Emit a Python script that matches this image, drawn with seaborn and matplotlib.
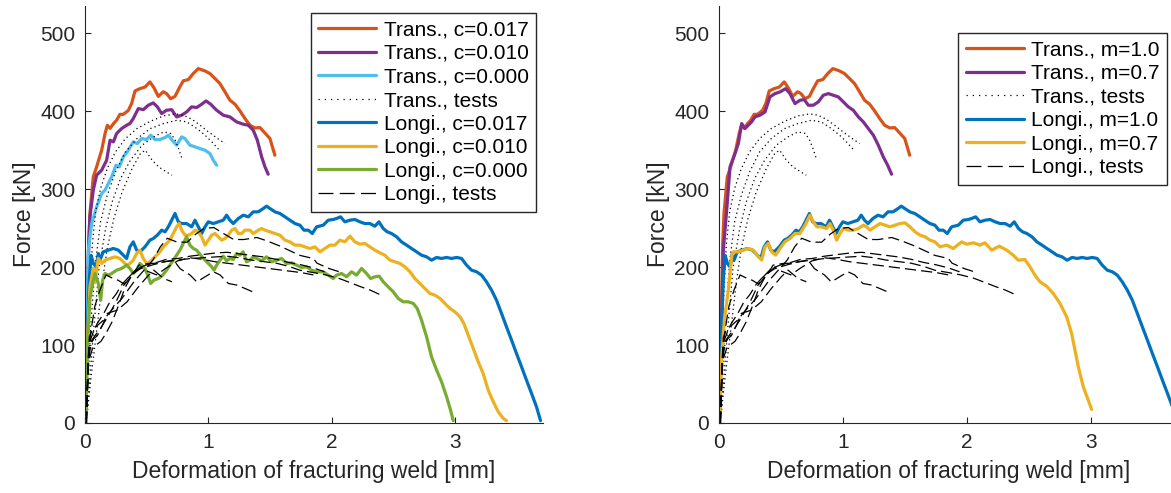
import matplotlib
matplotlib.use("Agg")
import matplotlib.pyplot as plt
import seaborn as sns
from matplotlib.lines import Line2D

sns.set_theme(style="white")
plt.rcParams["font.family"] = ["Liberation Sans", "DejaVu Sans"]

# ---------------- data (deformation [mm], force [kN]) ----------------
# shared simulations (left c=0.017 == right m=1.0)
trans_017_x = [0.005, 0.02, 0.03, 0.040, 0.067, 0.094, 0.135, 0.162, 0.181, 0.203, 0.230, 0.256, 0.283, 0.310,
               0.351, 0.378, 0.405, 0.445, 0.486, 0.526, 0.559, 0.594, 0.634, 0.661, 0.694, 0.729, 0.764,
               0.796, 0.837, 0.877, 0.918, 0.972, 1.012, 1.053, 1.093, 1.134, 1.174, 1.215, 1.255, 1.296,
               1.336, 1.377, 1.417, 1.457, 1.498, 1.538]
trans_017_y = [0, 150, 230, 268.8, 315.8, 328.6, 350, 371, 382, 378, 384, 388.5, 396, 396,
               401, 410, 426, 429, 431, 437.6, 430, 419, 425, 422.6, 416, 419, 430,
               439, 440.6, 448.3, 454.7, 451.7, 448.3, 441.9, 435.5, 424.8, 414.1, 409, 400.4, 390.6,
               382, 378.6, 379, 372.2, 365, 343.6]

trans_010_x = [0.005, 0.02, 0.03, 0.040, 0.067, 0.094, 0.135, 0.175, 0.203, 0.230, 0.256, 0.297, 0.337, 0.364,
               0.391, 0.432, 0.472, 0.513, 0.553, 0.586, 0.621, 0.661, 0.702, 0.742, 0.783, 0.823, 0.864,
               0.904, 0.945, 0.980, 1.018, 1.066, 1.120, 1.174, 1.228, 1.282, 1.323, 1.363, 1.396, 1.431,
               1.458, 1.484]
trans_010_y = [0, 150, 230, 264.5, 298.7, 318, 324.4, 337, 362.8, 360.7, 371.4, 377.8, 382, 384.2,
               390.6, 403.4, 402, 407.7, 410.7, 405.6, 397, 401.3, 402, 392.7, 394.9, 399.1, 405.6,
               404.7, 409, 413.2, 409, 401.3, 394.9, 392.7, 386.3, 383.3, 382, 375.6, 362.8, 341.4,
               328.6, 319.2]

trans_000_x = [0.005, 0.015, 0.027, 0.054, 0.094, 0.135, 0.162, 0.189, 0.216, 0.251, 0.278, 0.310, 0.351,
               0.391, 0.424, 0.459, 0.499, 0.532, 0.567, 0.607, 0.648, 0.675, 0.702, 0.742, 0.783, 0.810,
               0.850, 0.891, 0.931, 0.972, 1.012, 1.039, 1.066]
trans_000_y = [0, 120, 221.8, 256, 277.3, 294.4, 298.7, 307.3, 315.8, 330.8, 328.6, 341.4, 350,
               360.7, 358.5, 365, 363.7, 369.2, 363.7, 363.7, 366.2, 369.2, 363.7, 356.4, 367.1, 364.9,
               356.4, 354.3, 352.1, 350, 345.7, 337.2, 330.8]

longi_017_x = [0.005, 0.02, 0.035, 0.05, 0.067, 0.09, 0.108, 0.121, 0.148, 0.189, 0.229, 0.270, 0.310, 0.337,
               0.364, 0.391, 0.418, 0.445, 0.486, 0.526, 0.553, 0.586, 0.621, 0.648, 0.675, 0.702, 0.729,
               0.756, 0.783, 0.823, 0.864, 0.891, 0.918, 0.945, 0.972, 0.999, 1.039, 1.080, 1.120, 1.147,
               1.174, 1.201, 1.242, 1.282, 1.323, 1.363, 1.404, 1.444, 1.471, 1.498, 1.539, 1.579, 1.620,
               1.660, 1.701, 1.741, 1.774, 1.809, 1.841, 1.876, 1.930, 1.970, 2.011, 2.038, 2.070, 2.105,
               2.146, 2.186, 2.227, 2.267, 2.308, 2.348, 2.381, 2.416, 2.448, 2.483, 2.524, 2.564, 2.605,
               2.645, 2.686, 2.726, 2.767, 2.807, 2.848, 2.888, 2.929, 2.969, 3.010, 3.050, 3.091, 3.131,
               3.172, 3.212, 3.252, 3.293, 3.333, 3.374, 3.414, 3.455, 3.495, 3.536, 3.576, 3.617, 3.657,
               3.690]
longi_017_y = [0, 120, 185, 215, 205, 200, 217.5, 208.9, 219.6, 221.8, 223.9, 221.8, 215.3, 211.1,
               226, 232.4, 221.8, 219.6, 226, 234.6, 236.7, 241, 247.4, 245.3, 251.7, 260.2, 268.8,
               258.1, 255.9, 255.9, 251.7, 260.2, 251.7, 243.1, 251.7, 258.1, 255.9, 258.1, 260.2, 266.6,
               260.2, 255.9, 262.4, 266.6, 264.5, 270.9, 270.9, 275.2, 278.2, 275.2, 270.9, 268.8, 264.5,
               260.2, 255.9, 253.8, 247.4, 247.4, 243.1, 251.7, 253.8, 260.2, 261.1, 262.4, 264.5, 258.1,
               260.2, 261.1, 258.1, 255.9, 255.9, 252.5, 258.1, 249.5, 245.3, 243.1, 238.9, 232.4, 228.2,
               223.9, 219.6, 215.3, 213.2, 208.9, 212.4, 211.1, 212.4, 211.1, 212.4, 211.1, 202.5, 196.1,
               194, 189.7, 181.2, 170.5, 157.7, 140.6, 123.5, 106.4, 89.3, 72.2, 55.1, 38, 20.9,
               3]

longi_010_x = [0.005, 0.02, 0.04, 0.067, 0.08, 0.094, 0.108, 0.135, 0.162, 0.203, 0.243, 0.283, 0.310, 0.337,
               0.364, 0.391, 0.418, 0.445, 0.472, 0.499, 0.526, 0.553, 0.580, 0.607, 0.634, 0.661, 0.688,
               0.715, 0.742, 0.764, 0.783, 0.810, 0.837, 0.864, 0.891, 0.918, 0.945, 0.972, 0.999, 1.026,
               1.053, 1.080, 1.107, 1.134, 1.161, 1.188, 1.215, 1.242, 1.269, 1.296, 1.336, 1.363, 1.404,
               1.431, 1.458, 1.498, 1.539, 1.579, 1.620, 1.660, 1.701, 1.741, 1.781, 1.822, 1.862, 1.903,
               1.943, 1.984, 2.024, 2.065, 2.105, 2.146, 2.186, 2.227, 2.267, 2.308, 2.348, 2.389, 2.429,
               2.470, 2.510, 2.551, 2.591, 2.632, 2.672, 2.713, 2.753, 2.794, 2.834, 2.875, 2.915, 2.956,
               2.996, 3.037, 3.069, 3.104, 3.145, 3.185, 3.225, 3.266, 3.307, 3.347, 3.388, 3.414]
longi_010_y = [0, 110, 175, 198.3, 180, 196.1, 211.1, 204.7, 208.9, 211.1, 213.2, 211.1, 206.8, 202.5,
               204.7, 208.9, 217.5, 221.8, 211.1, 204.7, 206.8, 211.1, 215.3, 219.6, 226, 230.3, 234.6,
               243.1, 251.7, 256, 247.4, 241, 241, 243.1, 247.4, 245.3, 238.9, 228.2, 234.6, 241,
               243.1, 238.9, 234.6, 236.7, 241, 247.4, 249.5, 243.1, 243.1, 247.4, 247.4, 243.1, 247.4,
               249.5, 247.4, 245.3, 243.1, 241, 234.6, 232.4, 228.2, 228.2, 226, 223.9, 226, 219.6,
               223.9, 228.2, 228.2, 234.6, 232.4, 239.7, 232.4, 229.4, 230.3, 226, 221.8, 218.3, 215.3,
               208.9, 206.8, 204.7, 200.4, 194, 185.4, 179, 172.6, 166.2, 164.1, 159.8, 153.4, 147,
               142.7, 136.3, 127.7, 112.8, 95.7, 78.6, 63.6, 42.3, 27.3, 14.5, 5.9, 3]

longi_000_x = [0.005, 0.02, 0.04, 0.067, 0.081, 0.108, 0.127, 0.143, 0.162, 0.189, 0.216, 0.256, 0.297, 0.337,
               0.364, 0.391, 0.418, 0.445, 0.486, 0.513, 0.532, 0.559, 0.594, 0.629, 0.661, 0.688, 0.715,
               0.742, 0.769, 0.796, 0.823, 0.850, 0.877, 0.904, 0.937, 0.972, 0.999, 1.026, 1.045, 1.066,
               1.093, 1.120, 1.147, 1.174, 1.201, 1.228, 1.255, 1.282, 1.309, 1.336, 1.363, 1.390, 1.431,
               1.471, 1.511, 1.552, 1.592, 1.633, 1.673, 1.714, 1.754, 1.795, 1.835, 1.876, 1.930, 1.970,
               2.011, 2.038, 2.078, 2.119, 2.159, 2.200, 2.240, 2.281, 2.313, 2.348, 2.383, 2.416, 2.456,
               2.497, 2.537, 2.578, 2.618, 2.659, 2.691, 2.726, 2.767, 2.807, 2.848, 2.888, 2.929, 2.961,
               2.983]
longi_000_y = [0, 100, 160, 183.3, 191.8, 179, 157.6, 183.3, 191.8, 189.7, 191.8, 196.1, 198.3, 202.5,
               198.3, 191.8, 196.1, 204.7, 198.3, 187.6, 179, 183.3, 185.4, 189.7, 196.1, 202.5, 208.9,
               215.3, 221.8, 230.3, 238.9, 228.2, 223.9, 221.8, 215.3, 208.9, 204.7, 200.4, 196.1, 202.5,
               208.9, 214.1, 208.1, 211.1, 209.8, 217.5, 215.3, 219.6, 206.8, 208.9, 213.2, 211.1, 208.1,
               213.2, 206.8, 208.9, 211.1, 204.7, 205.5, 202.5, 199.5, 200.4, 196.1, 194, 194, 189.7,
               185.4, 189.7, 191.8, 187.6, 194, 189.7, 198.3, 191.8, 185.4, 187.6, 188.4, 181.2, 174.7,
               168.3, 159.8, 155.5, 155.5, 153.4, 147, 132, 110.6, 85, 67.9, 53, 33.7, 16.6,
               3]

# right-panel only simulations (m=0.7)
trans_m07_x = [0.005, 0.02, 0.035, 0.062, 0.089, 0.129, 0.156, 0.183, 0.210, 0.236, 0.263, 0.290, 0.330,
               0.371, 0.411, 0.452, 0.492, 0.538, 0.572, 0.613, 0.653, 0.688, 0.720, 0.761, 0.801, 0.841,
               0.882, 0.922, 0.962, 1.003, 1.043, 1.083, 1.124, 1.164, 1.204, 1.245, 1.285, 1.325, 1.360,
               1.392]
trans_m07_y = [0, 120, 221.8, 273, 328.6, 345.7, 358.5, 384.2, 377.8, 382, 386.3, 392.7, 394.9,
               399.1, 418.4, 422.6, 424.8, 429, 422.6, 409.8, 414.1, 414.9, 407.7, 407.7, 412, 420.5,
               422.6, 420.5, 418.4, 412, 405.6, 401.3, 392.7, 386.3, 377.8, 369.2, 356.4, 341.4, 330.8,
               319.2]

longi_m07_x = [0.005, 0.02, 0.045, 0.075, 0.089, 0.102, 0.115, 0.156, 0.196, 0.236, 0.277, 0.317, 0.344,
               0.371, 0.398, 0.425, 0.457, 0.492, 0.532, 0.573, 0.613, 0.653, 0.694, 0.734, 0.761, 0.788,
               0.828, 0.868, 0.895, 0.922, 0.949, 0.976, 1.003, 1.043, 1.083, 1.124, 1.164, 1.191, 1.218,
               1.258, 1.298, 1.339, 1.379, 1.419, 1.460, 1.500, 1.540, 1.581, 1.621, 1.661, 1.702, 1.742,
               1.782, 1.836, 1.890, 1.957, 1.997, 2.051, 2.105, 2.145, 2.199, 2.260, 2.320, 2.373, 2.414,
               2.467, 2.508, 2.548, 2.588, 2.642, 2.696, 2.750, 2.804, 2.844, 2.871, 2.898, 2.938, 2.978,
               3.005]
longi_m07_y = [0, 80, 135, 170.5, 191.8, 213.2, 219.6, 219.6, 221.8, 223.9, 221.8, 213.2, 209,
               226, 230.3, 219.6, 215.3, 223.9, 232.4, 236.7, 243.1, 243.1, 253.8, 266.6, 258.1, 251.7,
               251.7, 249.5, 255.9, 247.4, 234.6, 243.1, 249.5, 247.4, 247.4, 249.5, 253.8, 251.7, 247.4,
               251.7, 255.9, 253.8, 251.7, 253.8, 255.9, 256.8, 251.7, 245.3, 241, 238.9, 234.6, 232.4,
               226, 228.2, 223.9, 232.4, 229.4, 231.2, 228.2, 231.2, 221.8, 226.9, 221.8, 215.3, 208.9,
               209.8, 200.4, 189.7, 181.2, 175.6, 166.2, 153.4, 136.3, 114.9, 93.5, 72.2, 46.5, 29.4,
               17.5]

# transverse tests (dotted)
trans_test1_x = [0.01, 0.02, 0.032, 0.059, 0.086, 0.126, 0.18, 0.247, 0.328, 0.422, 0.53, 0.637, 0.731, 0.798,
                 0.866, 0.933, 1.0, 1.067, 1.134]
trans_test1_y = [0, 80, 142.7, 228, 271, 300.8, 326.5, 347.9, 365, 377.8, 387.2, 394, 396.6, 394.9,
                 389.7, 382, 373.5, 365.8, 358.5]
trans_test2_x = [0.01, 0.03, 0.046, 0.086, 0.126, 0.18, 0.247, 0.328, 0.422, 0.53, 0.637, 0.745, 0.825, 0.906,
                 0.973, 1.027, 1.081]
trans_test2_y = [0, 70, 125.6, 206.8, 258.1, 292.3, 322.2, 347.9, 365, 377.8, 384.2, 388.4, 386.3, 377.8,
                 369.2, 360.7, 351.3]
trans_test3_x = [0.01, 0.04, 0.073, 0.113, 0.167, 0.22, 0.288, 0.368, 0.462, 0.557, 0.637, 0.696, 0.731, 0.758,
                 0.785]
trans_test3_y = [0, 60, 125.6, 198.3, 249.5, 283.7, 313.7, 337.2, 356.4, 367.1, 373.5, 371.4, 362.8, 352.1,
                 339.3]
trans_test4_x = [0.01, 0.05, 0.1, 0.14, 0.18, 0.234, 0.301, 0.382, 0.449, 0.489, 0.543, 0.597, 0.651, 0.704]
trans_test4_y = [0, 60, 125.6, 181.2, 224, 262.4, 296.6, 326.5, 345.7, 350, 337.2, 328.6, 323, 317.9]

# longitudinal tests (dashed)
longi_test1_x = [0.01, 0.02, 0.035, 0.06, 0.1, 0.15, 0.2, 0.3, 0.4, 0.5, 0.55, 0.61, 0.667, 0.747, 0.828,
                 0.895, 0.962, 1.043, 1.123, 1.204, 1.285, 1.392, 1.473, 1.581, 1.661, 1.742, 1.85, 1.88,
                 1.98, 2.06]
longi_test1_y = [0, 60, 110, 120, 125, 132, 142, 160, 182, 200, 209, 226, 237, 232, 232,
                 242, 249.5, 250.8, 243, 235.4, 235.4, 238, 233.7, 226.9, 220.9, 215, 211, 205,
                 198, 194]
longi_test2_x = [0.01, 0.025, 0.04, 0.07, 0.1, 0.15, 0.2, 0.25, 0.3, 0.37, 0.45, 0.55, 0.65, 0.75, 0.85,
                 0.95, 1.05, 1.15, 1.25, 1.35, 1.45, 1.55, 1.65, 1.74, 1.85, 1.95, 2.05, 2.15, 2.23, 2.31,
                 2.40]
longi_test2_y = [0, 70, 105, 118, 128, 140, 155, 165, 178, 190, 198, 203, 207, 209, 211,
                 212, 213, 214, 212, 209, 207, 205, 201, 196, 193, 190, 186, 180, 175, 170.5,
                 164]
longi_test3_x = [0.01, 0.03, 0.05, 0.08, 0.12, 0.17, 0.22, 0.27, 0.32, 0.36, 0.42, 0.5, 0.58, 0.66, 0.75,
                 0.85, 0.95, 1.05, 1.15, 1.25, 1.35, 1.45, 1.55, 1.65, 1.75, 1.85, 1.94]
longi_test3_y = [0, 95, 120, 150, 170, 190, 186, 183, 178, 188, 198, 203, 206, 210, 211,
                 214, 216, 218, 219, 217, 215, 213, 210, 206, 203, 199, 194]
longi_test4_x = [0.01, 0.03, 0.05, 0.08, 0.12, 0.18, 0.25, 0.315, 0.395, 0.436, 0.516, 0.6, 0.637, 0.718,
                 0.77, 0.85, 0.906, 0.973, 1.04, 1.094, 1.161, 1.229, 1.296, 1.363]
longi_test4_y = [0, 85, 105, 112, 120, 135, 155, 176.9, 191.8, 202.5, 204.7, 205, 206.8, 209,
                 198, 190, 181, 187.6, 194, 190, 179, 177, 172.6, 168]
longi_test5_x = [0.01, 0.025, 0.045, 0.07, 0.1, 0.14, 0.18, 0.261, 0.341, 0.422, 0.503, 0.557, 0.637, 0.704]
longi_test5_y = [0, 75, 100, 108, 112, 125, 140.6, 144.8, 155.5, 172.6, 187.6, 196.1, 185.4, 181.2]
longi_test6_x = [0.01, 0.03, 0.06, 0.09, 0.13, 0.17, 0.22, 0.27, 0.32, 0.38, 0.45, 0.5, 0.58, 0.65, 0.75,
                 0.85, 0.95, 1.05, 1.15, 1.25, 1.35, 1.45, 1.55, 1.65, 1.75, 1.85]
longi_test6_y = [0, 80, 95, 100, 105, 115, 130, 150, 172, 190, 200, 195, 190, 198, 208,
                 212, 210, 207, 205, 203, 201, 199, 197, 195, 193, 190]

left_labels = ["Trans., c=0.017", "Trans., c=0.010", "Trans., c=0.000", "Trans., tests",
               "Longi., c=0.017", "Longi., c=0.010", "Longi., c=0.000", "Longi., tests"]
right_labels = ["Trans., m=1.0", "Trans., m=0.7", "Trans., tests",
                "Longi., m=1.0", "Longi., m=0.7", "Longi., tests"]
x_ticks = [0, 1, 2, 3]
y_ticks = [0, 100, 200, 300, 400, 500]

# ---------------- styling ----------------
C_RED = "#D95319"
C_PUR = "#7E2F8E"
C_CYAN = "#4DBEEE"
C_BLUE = "#0072BD"
C_YEL = "#EDB120"
C_GRN = "#77AC30"
AX_COL = "#262626"
SIM_LW = 2.3
DOT_STYLE = (0, (1, 2.5))
DASH_STYLE = (0, (9, 4))

trans_tests = [(trans_test1_x, trans_test1_y), (trans_test2_x, trans_test2_y),
               (trans_test3_x, trans_test3_y), (trans_test4_x, trans_test4_y)]
longi_tests = [(longi_test1_x, longi_test1_y), (longi_test2_x, longi_test2_y),
               (longi_test3_x, longi_test3_y), (longi_test4_x, longi_test4_y),
               (longi_test5_x, longi_test5_y), (longi_test6_x, longi_test6_y)]


def draw(ax, x, y, color, lw, ls="-"):
    sns.lineplot(x=x, y=y, ax=ax, sort=False, estimator=None, color=color,
                 linewidth=lw, legend=False)
    ax.lines[-1].set_linestyle(ls)


def sim_handle(c):
    return Line2D([], [], color=c, lw=SIM_LW)


dot_handle = Line2D([], [], color="black", lw=0.9, linestyle=(0, (1, 4)))
dash_handle = Line2D([], [], color="black", lw=0.9, linestyle=(0, (12, 5)))

fig = plt.figure(figsize=(11.71, 4.93), dpi=100)
fig.patch.set_facecolor("white")
ax1 = fig.add_axes([85 / 1171, 70 / 493, 458 / 1171, 417 / 493])
ax2 = fig.add_axes([719 / 1171, 70 / 493, 460 / 1171, 417 / 493])

# left panel
for x, y, c in [(trans_017_x, trans_017_y, C_RED), (trans_010_x, trans_010_y, C_PUR),
                (trans_000_x, trans_000_y, C_CYAN)]:
    draw(ax1, x, y, c, SIM_LW)
for x, y in trans_tests:
    draw(ax1, x, y, "black", 0.9, DOT_STYLE)
for x, y, c in [(longi_017_x, longi_017_y, C_BLUE), (longi_010_x, longi_010_y, C_YEL),
                (longi_000_x, longi_000_y, C_GRN)]:
    draw(ax1, x, y, c, SIM_LW)
for x, y in longi_tests:
    draw(ax1, x, y, "black", 0.9, DASH_STYLE)

# right panel
for x, y, c in [(trans_017_x, trans_017_y, C_RED), (trans_m07_x, trans_m07_y, C_PUR)]:
    draw(ax2, x, y, c, SIM_LW)
for x, y in trans_tests:
    draw(ax2, x, y, "black", 0.9, DOT_STYLE)
for x, y, c in [(longi_017_x, longi_017_y, C_BLUE), (longi_m07_x, longi_m07_y, C_YEL)]:
    draw(ax2, x, y, c, SIM_LW)
for x, y in longi_tests:
    draw(ax2, x, y, "black", 0.9, DASH_STYLE)

left_handles = [sim_handle(C_RED), sim_handle(C_PUR), sim_handle(C_CYAN), dot_handle,
                sim_handle(C_BLUE), sim_handle(C_YEL), sim_handle(C_GRN), dash_handle]
right_handles = [sim_handle(C_RED), sim_handle(C_PUR), dot_handle,
                 sim_handle(C_BLUE), sim_handle(C_YEL), dash_handle]

for ax, handles, labels, anchor in [(ax1, left_handles, left_labels, (536 / 1171, 1 - 13 / 493)),
                                    (ax2, right_handles, right_labels, (1167 / 1171, 1 - 33 / 493))]:
    ax.set_xlim(0, 3.71)
    ax.set_ylim(0, 535)
    ax.set_xticks(x_ticks)
    ax.set_yticks(y_ticks)
    ax.set_facecolor("white")
    for s in ["top", "right"]:
        ax.spines[s].set_visible(False)
    for s in ["left", "bottom"]:
        ax.spines[s].set_color(AX_COL)
        ax.spines[s].set_linewidth(0.8)
    ax.tick_params(direction="in", length=4, width=0.8, colors=AX_COL, labelsize=15, pad=7,
                   left=True, bottom=True)
    ax.set_xlabel("Deformation of fracturing weld [mm]", fontsize=16.5, color=AX_COL, labelpad=6)
    ax.set_ylabel("Force [kN]", fontsize=16.5, color=AX_COL, labelpad=3)
    leg = ax.legend(handles, labels, loc="upper right", bbox_to_anchor=anchor,
                    bbox_transform=fig.transFigure, fontsize=15, frameon=True, fancybox=False,
                    edgecolor=AX_COL, framealpha=1, borderpad=0.35, labelspacing=0.22,
                    handlelength=2.8, handletextpad=0.35, borderaxespad=0)
    leg.get_frame().set_linewidth(1.0)
    for t in leg.get_texts():
        t.set_color("black")

fig.savefig("out.png", dpi=100, facecolor="white")
